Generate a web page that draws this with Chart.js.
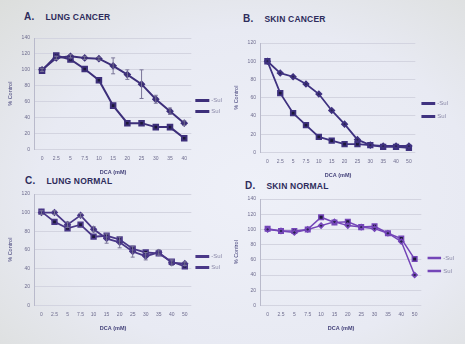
<!DOCTYPE html>
<html>
<head>
<meta charset="utf-8">
<script src="https://cdn.jsdelivr.net/npm/chart.js@4"></script>
<style>
  body { margin: 0; width: 465px; height: 344px; overflow: hidden;
         background: radial-gradient(ellipse at 55% 55%, #eef0f8 0%, #e8eaf3 60%, #dcdedc 100%);
         font-family: "Liberation Sans", Arial, sans-serif; }
  .box { position: absolute; }
  .ttl { position: absolute; font-weight: bold; color: #2e2c5c; font-size: 10px; letter-spacing: 0.2px; }
  .ttl span { margin-left: 11px; font-size: 8.5px; }
</style>
</head>
<body>
<div class="ttl" style="left:24px; top:11px;">A.<span>LUNG CANCER</span></div>
<div class="ttl" style="left:243px; top:13px;">B.<span>SKIN CANCER</span></div>
<div class="ttl" style="left:25px; top:175px;">C.<span>LUNG NORMAL</span></div>
<div class="ttl" style="left:245px; top:180px;">D.<span>SKIN NORMAL</span></div>

<div class="box" style="left:4px; top:30px; width:230px; height:148px;"><canvas id="cA"></canvas></div>
<div class="box" style="left:230px; top:35px; width:230px; height:146px;"><canvas id="cB"></canvas></div>
<div class="box" style="left:4px; top:186px; width:230px; height:148px;"><canvas id="cC"></canvas></div>
<div class="box" style="left:230px; top:191px; width:236px; height:143px;"><canvas id="cD"></canvas></div>

<script>
// DCA concentrations (mM)
const dcaA = ['0', '2.5', '5', '7.5', '10', '15', '20', '25', '30', '35', '40'];
const dcaB = ['0', '2.5', '5', '7.5', '10', '15', '20', '25', '30', '35', '40', '50'];

// A. lung cancer
const lungCancerMinus = [100, 115, 117, 115, 114, 105, 94, 82, 63, 48, 33];
const lungCancerErr   = [2, 2, 2, 2, 2, 10, 6, 18, 5, 4, 3];
const lungCancerSul   = [99, 118, 113, 101, 87, 55, 33, 33, 28, 28, 14];

// B. skin cancer
const skinCancerMinus = [100, 87, 83, 75, 64, 46, 31, 14, 8, 7, 7, 7];
const skinCancerSul   = [100, 65, 43, 30, 17, 13, 9, 9, 8, 6, 6, 5];

// C. lung normal
const lungNormalMinus = [100, 100, 87, 97, 82, 72, 68, 58, 53, 57, 46, 45];
const lungNormalErr   = [2, 2, 3, 2, 3, 5, 6, 6, 4, 3, 3, 2];
const lungNormalSul   = [101, 90, 83, 87, 74, 75, 71, 61, 57, 56, 47, 42];

// D. skin normal
const skinNormalMinus = [100, 98, 96, 100, 105, 110, 105, 103, 101, 95, 84, 40];
const skinNormalSul   = [101, 98, 98, 100, 116, 109, 110, 103, 104, 95, 88, 61];

const legendNames = ['-Sul', 'Sul'];

// simple vertical error bars for the first dataset
const errorBars = {
  id: 'errorBars',
  afterDatasetsDraw(chart, args, opts) {
    const err = opts.values;
    if (!err) return;
    const ctx = chart.ctx;
    const meta = chart.getDatasetMeta(0);
    const y = chart.scales.y;
    ctx.save();
    ctx.strokeStyle = opts.color || '#7a7598';
    ctx.lineWidth = 1;
    meta.data.forEach((pt, i) => {
      const v = chart.data.datasets[0].data[i];
      const top = y.getPixelForValue(v + err[i]);
      const bot = y.getPixelForValue(v - err[i]);
      ctx.beginPath();
      ctx.moveTo(pt.x, top); ctx.lineTo(pt.x, bot);
      ctx.moveTo(pt.x - 2, top); ctx.lineTo(pt.x + 2, top);
      ctx.moveTo(pt.x - 2, bot); ctx.lineTo(pt.x + 2, bot);
      ctx.stroke();
    });
    ctx.restore();
  }
};

function makeChart(id, labels, minus, sul, yMax, err, lineColor, lw, legPad) {
  new Chart(document.getElementById(id), {
    type: 'line',
    data: {
      labels: labels,
      datasets: [
        { label: legendNames[0], data: minus, borderColor: lineColor, backgroundColor: '#2a2350',
          borderWidth: lw, pointStyle: 'rectRot', pointRadius: 2.5, tension: 0 },
        { label: legendNames[1], data: sul, borderColor: lineColor, backgroundColor: '#1c1838',
          borderWidth: lw, pointStyle: 'rect', pointRadius: 3.2, tension: 0 }
      ]
    },
    options: {
      responsive: true,
      maintainAspectRatio: false,
      animation: false,
      layout: { padding: { top: 4, right: 2 } },
      plugins: {
        legend: {
          position: 'right',
          labels: { boxWidth: 12, boxHeight: 1, padding: legPad,
                    color: '#8a88a8', font: { size: 6 } }
        },
        tooltip: { enabled: false },
        errorBars: { values: err }
      },
      scales: {
        x: {
          offset: true,
          grid: { display: false, drawTicks: false },
          border: { display: false },
          ticks: { color: '#6e6c8e', font: { size: 5 }, maxRotation: 0, padding: 6 },
          title: { display: true, text: 'DCA (mM)', color: '#44427a', font: { size: 5.5, weight: 'bold' }, padding: 2 }
        },
        y: {
          min: 0, max: yMax,
          grid: { color: '#d3d4e0', borderDash: [2, 2], drawTicks: false },
          border: { color: '#b9bacb' },
          ticks: { stepSize: 20, color: '#6e6c8e', font: { size: 5 }, padding: 5 },
          title: { display: true, text: '% Control', color: '#44427a', font: { size: 5.5 }, padding: 3 }
        }
      }
    },
    plugins: [errorBars]
  });
}

makeChart('cA', dcaA, lungCancerMinus, lungCancerSul, 140, lungCancerErr, '#3d2f7a', 2, 5);
makeChart('cB', dcaB, skinCancerMinus, skinCancerSul, 120, null, '#3f3280', 1.8, 7);
makeChart('cC', dcaB, lungNormalMinus, lungNormalSul, 120, lungNormalErr, '#4a3888', 1.8, 5);
makeChart('cD', dcaB, skinNormalMinus, skinNormalSul, 140, null, '#7446b8', 1.5, 7);
</script>
</body>
</html>
